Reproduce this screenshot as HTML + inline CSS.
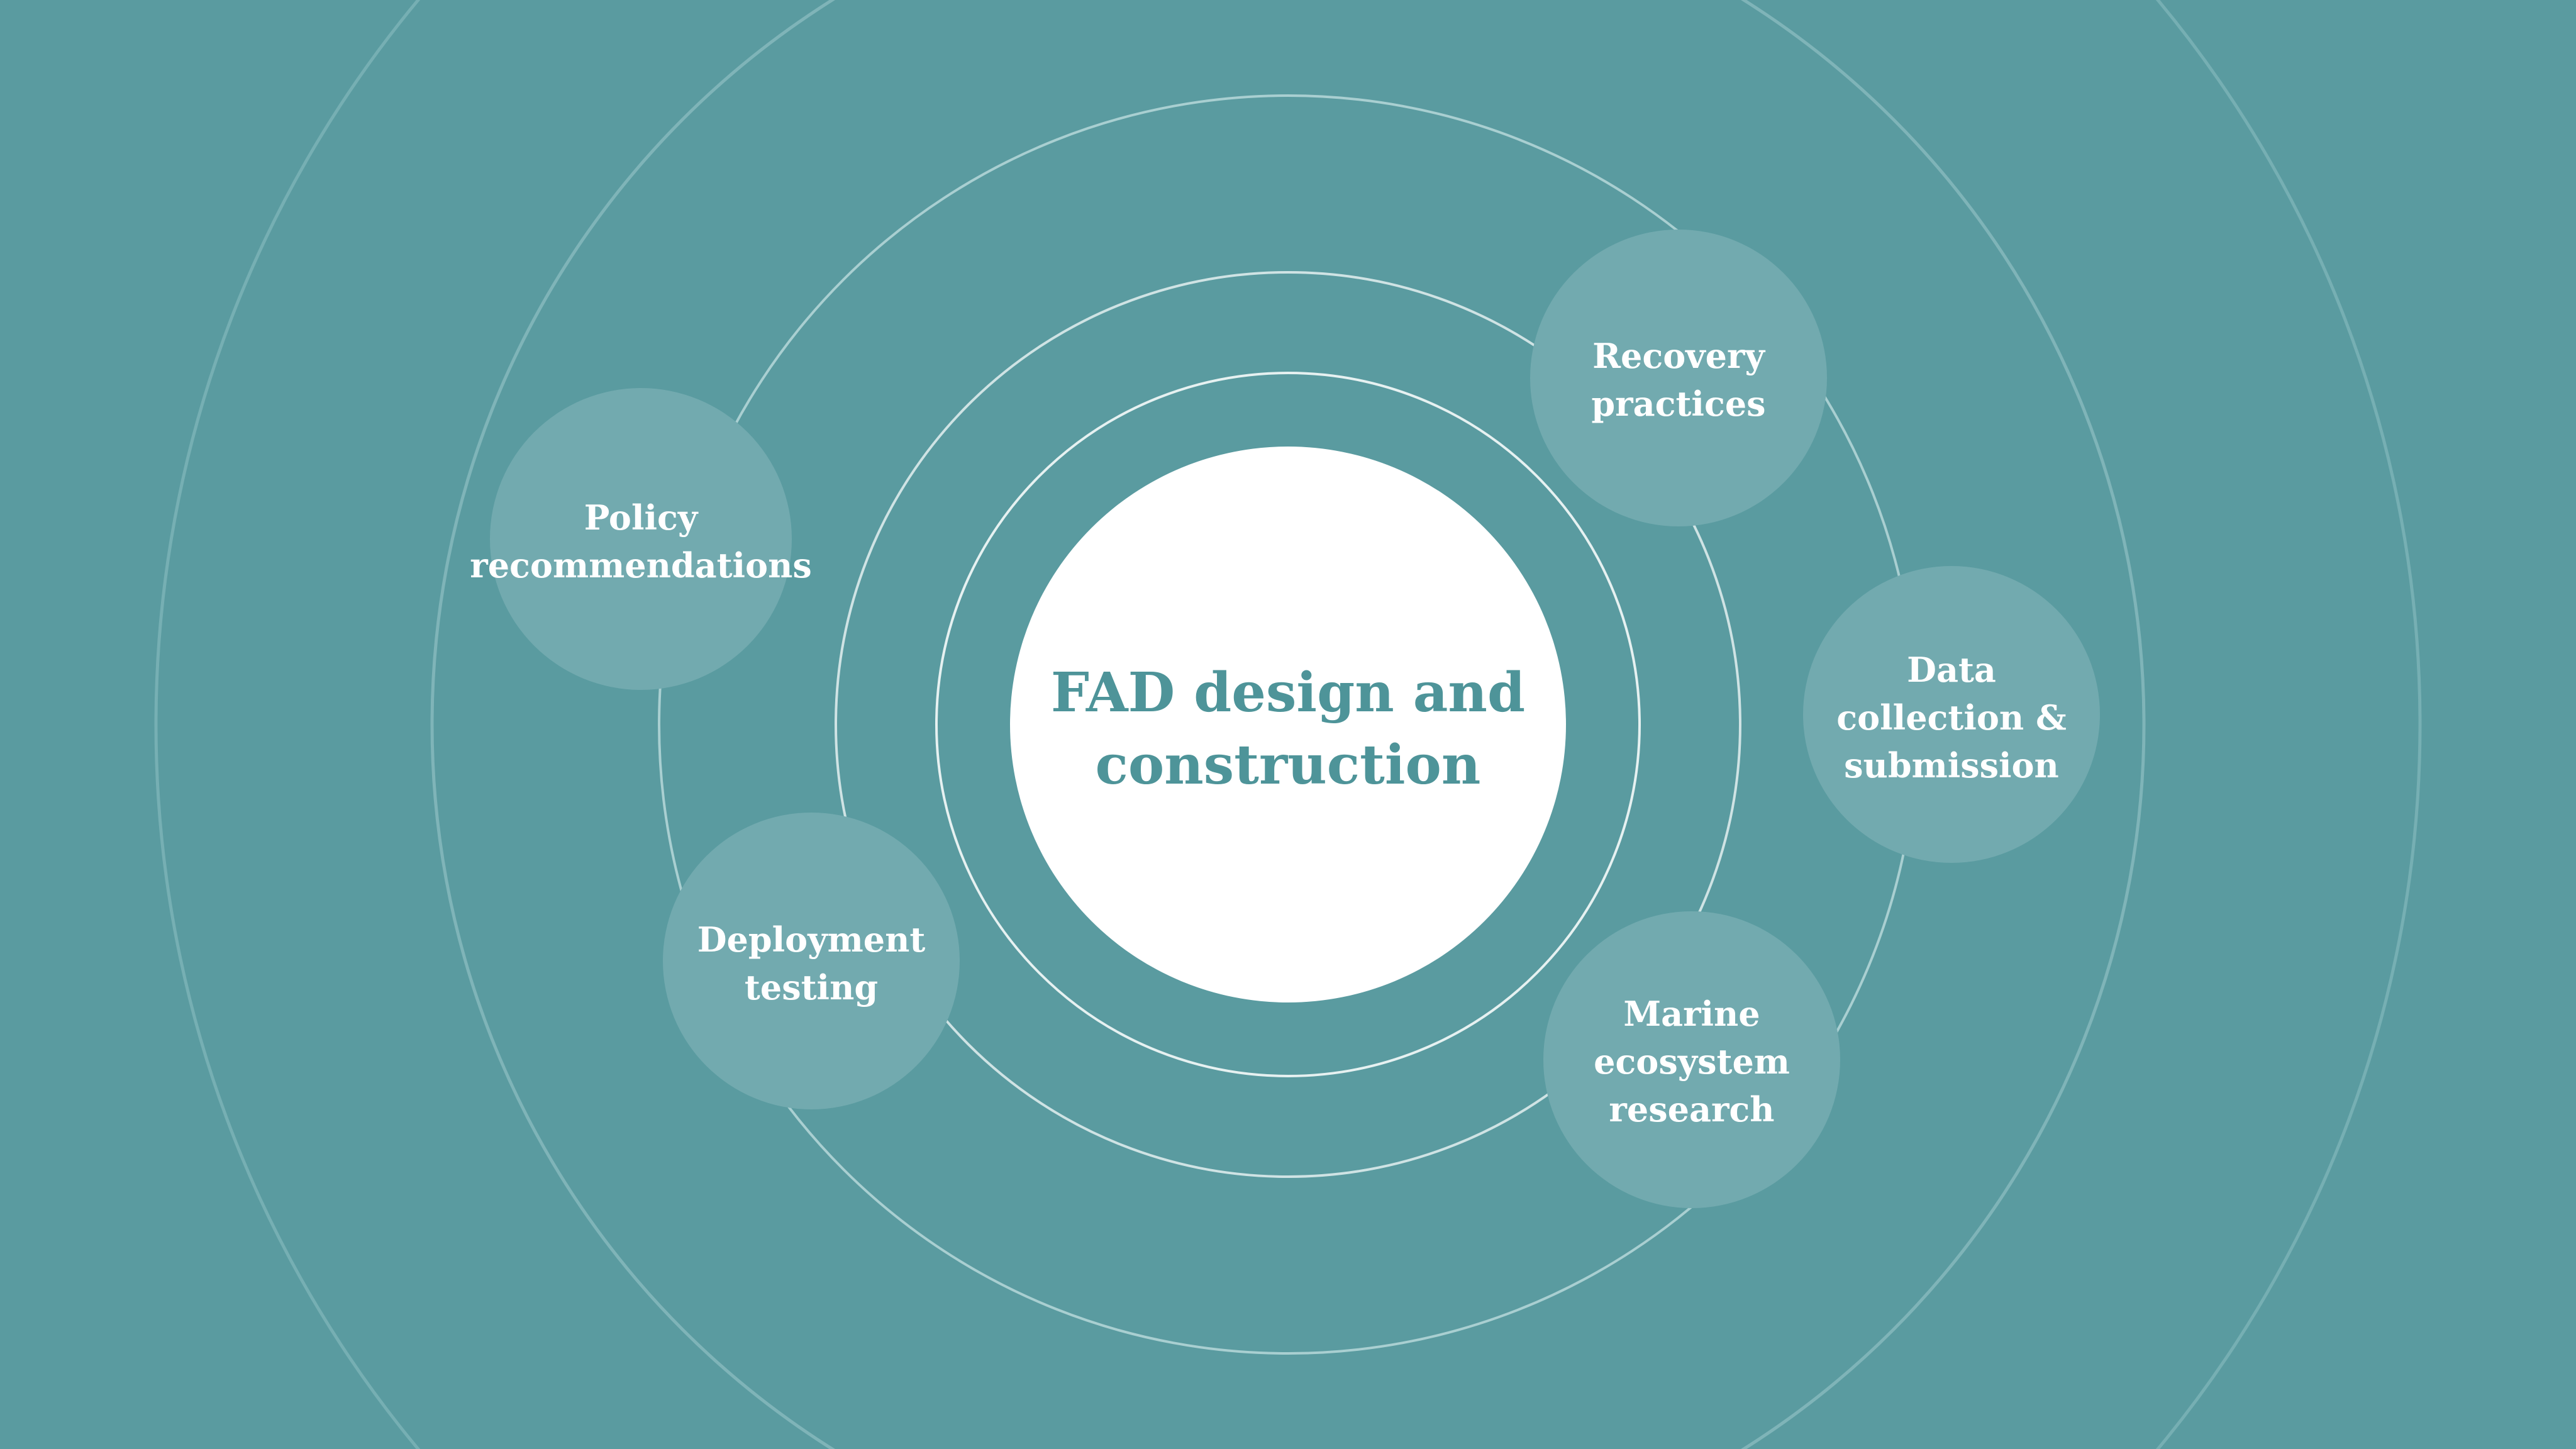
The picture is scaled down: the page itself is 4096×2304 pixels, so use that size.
<!DOCTYPE html>
<html><head><meta charset="utf-8"><style>
html,body{margin:0;padding:0;background:#5a9ba0;width:4096px;height:2304px;overflow:hidden;}
svg{display:block}
text{font-family:"DejaVu Serif","Liberation Serif",serif;font-weight:bold;}
</style></head><body>
<svg width="4096" height="2304" viewBox="0 0 4096 2304" xmlns="http://www.w3.org/2000/svg">
<rect width="4096" height="2304" fill="#5a9ba0"/>
<g fill="none">
<circle cx="2048" cy="1152" r="1800" stroke="#76afb3" stroke-width="5"/>
<circle cx="2048" cy="1152" r="1361" stroke="#7fb4b8" stroke-width="5"/>
<circle cx="2048" cy="1152" r="1000" stroke="#a9cfd1" stroke-width="4"/>
<circle cx="2048" cy="1152" r="719" stroke="#cfe3e4" stroke-width="4"/>
<circle cx="2048" cy="1152" r="559" stroke="#e6f1f1" stroke-width="4"/>
</g>
<circle cx="2048" cy="1152" r="442" fill="#ffffff"/>
<g fill="#72aaaf">
<circle cx="2669" cy="601" r="236"/>
<circle cx="3103" cy="1136" r="236"/>
<circle cx="2690" cy="1685" r="236"/>
<circle cx="1290" cy="1528" r="236"/>
<circle cx="1019" cy="857" r="240"/>
</g>
<g fill="#4e9499" font-size="86" text-anchor="middle">
<text x="2048" y="1131">FAD design and</text>
<text x="2048" y="1246">construction</text>
</g>
<g fill="#ffffff" font-size="54" text-anchor="middle">
<text x="2669" y="585">Recovery</text>
<text x="2669" y="661">practices</text>
<text x="3103" y="1084">Data</text>
<text x="3103" y="1160">collection &amp;</text>
<text x="3103" y="1236">submission</text>
<text x="2690" y="1631">Marine</text>
<text x="2690" y="1707">ecosystem</text>
<text x="2690" y="1783">research</text>
<text x="1290" y="1513">Deployment</text>
<text x="1290" y="1589">testing</text>
<text x="1019" y="842">Policy</text>
<text x="1019" y="918">recommendations</text>
</g>
</svg>
</body></html>
